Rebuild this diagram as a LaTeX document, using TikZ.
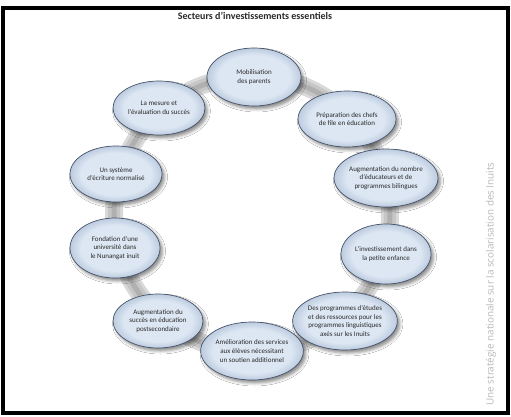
\documentclass[tikz,border=0pt]{standalone}
\usepackage{fontspec}
\setmainfont{Carlito}
\newfontfamily\vfont{Open Sans}
\usetikzlibrary{shapes.geometric,shadows.blur}
\definecolor{ellfill}{HTML}{DDE7F3}
\definecolor{ellrim}{HTML}{BCCBDF}
\definecolor{elldraw}{HTML}{46536A}
\definecolor{txt}{HTML}{2A2A2A}
\pgfdeclareradialshading{ellshade}{\pgfpoint{0bp}{0bp}}{color(0bp)=(ellfill); color(19bp)=(ellfill); color(25bp)=(ellrim); color(50bp)=(ellrim)}
\tikzset{
  ell/.style={ellipse, draw=elldraw, line width=0.7pt, shading=ellshade,
    align=center, inner sep=0pt, text=txt,
    font=\fontsize{7}{8.6}\selectfont,
    blur shadow={shadow xshift=2.5pt, shadow yshift=-3pt, shadow blur radius=3pt, shadow opacity=45}},
  ringouter/.style={line width=18pt, draw=gray!30},
  ringmid/.style={line width=12pt, draw=gray!45},
  ringinner/.style={line width=5pt, draw=gray!62},
}
\begin{document}
\begin{tikzpicture}[x=1pt,y=-1pt]
\useasboundingbox (0,0) rectangle (511,417);
\fill[white] (0,0) rectangle (511,417);
\draw[line width=4pt] (3,8) rectangle (508,413);
\node[font=\bfseries\fontsize{10}{12}\selectfont, text=txt] (title) at (255,16) {Secteurs d’investissements essentiels};
\node[rotate=90, text=gray!55, font=\vfont\fontsize{9.9}{11}\selectfont] (side) at (491,284) {Une stratégie nationale sur la scolarisation des Inuits};
\coordinate (c) at (252,214);
\draw[ringouter] (c) circle (138);
\draw[ringmid] (c) circle (138);
\draw[ringinner] (c) circle (138);
\node[ell, minimum width=94pt, minimum height=58pt] (mob) at (254,77) {Mobilisation\\des parents};
\node[ell, minimum width=92pt, minimum height=54pt] (mes) at (159,108) {La mesure et\\l’évaluation du succès};
\node[ell, minimum width=98pt, minimum height=56pt] (pre) at (347,119) {Préparation des chefs\\de file en éducation};
\node[ell, minimum width=88pt, minimum height=58pt] (aug) at (386,178) {Augmentation du nombre\\d’éducateurs et de\\programmes bilingues};
\node[ell, minimum width=90pt, minimum height=60pt] (inv) at (386,254) {L’investissement dans\\la petite enfance};
\node[ell, minimum width=92pt, minimum height=58pt] (prg) at (345,321) {Des programmes d’études\\et des ressources pour les\\programmes linguistiques\\axés sur les Inuits};
\node[ell, minimum width=94pt, minimum height=58pt] (ame) at (252,351) {Amélioration des services\\aux élèves nécessitant\\un soutien additionnel};
\node[ell, minimum width=90pt, minimum height=54pt] (suc) at (158,321) {Augmentation du\\succès en éducation\\postsecondaire};
\node[ell, minimum width=90pt, minimum height=60pt] (fon) at (115,248) {Fondation d’une\\université dans\\le Nunangat inuit};
\node[ell, minimum width=92pt, minimum height=56pt] (sys) at (116,174) {Un système\\d’écriture normalisé};
\end{tikzpicture}
\end{document}
